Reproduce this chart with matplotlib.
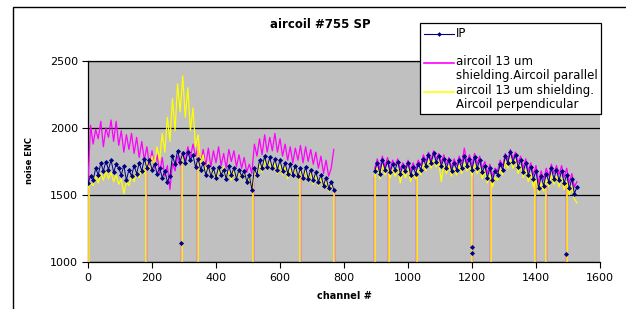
import numpy as np
import matplotlib
matplotlib.use('Agg')
import matplotlib.pyplot as plt
from matplotlib.lines import Line2D
from matplotlib.patches import Rectangle
from matplotlib.legend_handler import HandlerLine2D

plt.rcParams['font.family'] = ['DejaVu Sans']

# channel grid (every 8th channel), two readout blocks with a gap between
ch_a = np.arange(0, 769, 8)
ch_b = np.arange(896, 1529, 8)

# IP
ip_a = [1590, 1640, 1610, 1700, 1650, 1740, 1680, 1750,
        1690, 1760, 1670, 1730, 1700, 1650, 1720, 1610,
        1690, 1640, 1720, 1660, 1740, 1680, 1770, 1700,
        1760, 1690, 1730, 1660, 1700, 1630, 1680, 1600,
        1640, 1790, 1730, 1830, 1750, 1810, 1740, 1820,
        1760, 1800, 1710, 1770, 1690, 1740, 1650, 1720,
        1640, 1700, 1630, 1710, 1650, 1690, 1620, 1720,
        1650, 1700, 1620, 1690, 1640, 1680, 1600, 1650,
        1540, 1700, 1650, 1760, 1700, 1790, 1710, 1780,
        1700, 1770, 1690, 1760, 1680, 1740, 1660, 1730,
        1650, 1720, 1640, 1700, 1630, 1710, 1620, 1690,
        1610, 1670, 1600, 1650, 1570, 1630, 1550, 1600,
        1540]
ip_b = [1680, 1740, 1660, 1760, 1690, 1750, 1670, 1730,
        1690, 1750, 1660, 1720, 1680, 1740, 1650, 1710,
        1660, 1730, 1690, 1770, 1720, 1800, 1740, 1810,
        1750, 1790, 1720, 1770, 1700, 1760, 1680, 1740,
        1690, 1760, 1700, 1790, 1720, 1770, 1690, 1780,
        1700, 1760, 1670, 1720, 1630, 1700, 1610, 1680,
        1650, 1730, 1690, 1790, 1740, 1820, 1750, 1800,
        1710, 1760, 1670, 1740, 1650, 1710, 1620, 1680,
        1550, 1640, 1570, 1660, 1600, 1700, 1620, 1690,
        1610, 1680, 1590, 1650, 1550, 1620, 1510, 1560]
ip_low_ch = [291, 1199, 1201, 1495]
ip_low_val = [1145, 1110, 1070, 1060]

# aircoil parallel
par_a = [1600, 2020, 1880, 1990, 1920, 2050, 1860, 2000,
         1930, 2060, 1900, 2050, 1870, 1980, 1820, 1950,
         1840, 1960, 1810, 1930, 1780, 1900, 1760, 1860,
         1720, 1830, 1700, 1800, 1660, 1780, 1640, 1720,
         1540, 1740, 1680, 1790, 1720, 1820, 1750, 1860,
         1780, 1880, 1790, 1860, 1740, 1840, 1720, 1850,
         1710, 1830, 1740, 1860, 1720, 1810, 1700, 1840,
         1750, 1830, 1710, 1800, 1700, 1780, 1670, 1730,
         1660, 1880, 1790, 1920, 1800, 1950, 1820, 1930,
         1830, 1960, 1820, 1920, 1790, 1880, 1760, 1860,
         1740, 1850, 1760, 1870, 1740, 1860, 1750, 1840,
         1730, 1820, 1700, 1790, 1660, 1760, 1640, 1700,
         1840]
par_b = [1700, 1770, 1690, 1790, 1710, 1780, 1690, 1760,
         1720, 1770, 1690, 1740, 1700, 1760, 1680, 1740,
         1690, 1760, 1720, 1800, 1750, 1820, 1760, 1830,
         1770, 1810, 1740, 1800, 1730, 1780, 1700, 1770,
         1720, 1790, 1730, 1850, 1740, 1800, 1720, 1810,
         1730, 1790, 1700, 1750, 1660, 1730, 1640, 1700,
         1680, 1760, 1710, 1810, 1760, 1840, 1770, 1820,
         1740, 1790, 1700, 1770, 1680, 1740, 1650, 1720,
         1590, 1680, 1610, 1700, 1640, 1730, 1660, 1720,
         1650, 1720, 1630, 1700, 1590, 1660, 1560, 1600]

# aircoil perpendicular
perp_a = [1560, 1590, 1570, 1640, 1590, 1660, 1610, 1680,
          1620, 1670, 1600, 1650, 1580, 1620, 1510, 1600,
          1570, 1650, 1600, 1680, 1630, 1700, 1660, 1740,
          1690, 1790, 1720, 1860, 1760, 1960, 1820, 2080,
          1900, 2220, 1980, 2330, 2120, 2390, 2080, 2300,
          1980, 2150, 1860, 1950, 1740, 1800, 1670, 1740,
          1630, 1700, 1610, 1690, 1640, 1710, 1620, 1680,
          1610, 1690, 1600, 1680, 1620, 1670, 1590, 1640,
          1550, 1680, 1630, 1730, 1670, 1760, 1690, 1750,
          1680, 1740, 1660, 1730, 1650, 1710, 1620, 1700,
          1630, 1710, 1620, 1690, 1610, 1680, 1600, 1670,
          1580, 1650, 1570, 1630, 1550, 1610, 1530, 1570,
          1540]
perp_b = [1640, 1700, 1620, 1720, 1650, 1700, 1630, 1690,
          1640, 1700, 1590, 1680, 1630, 1700, 1600, 1660,
          1620, 1690, 1650, 1730, 1680, 1760, 1700, 1760,
          1710, 1750, 1600, 1730, 1660, 1720, 1640, 1700,
          1650, 1720, 1660, 1740, 1680, 1720, 1640, 1730,
          1660, 1710, 1620, 1680, 1590, 1650, 1560, 1630,
          1610, 1690, 1650, 1750, 1700, 1770, 1700, 1760,
          1660, 1720, 1630, 1690, 1600, 1660, 1560, 1620,
          1510, 1590, 1530, 1620, 1560, 1650, 1580, 1640,
          1560, 1630, 1540, 1600, 1500, 1570, 1470, 1440]

# dead channels (noise 0) and the level the drop starts from
dead_ch = [0, 180, 291, 342, 515, 661, 768, 895, 939, 1026, 1199, 1257, 1396, 1430, 1495]
dead_top = [1600, 1720, 1800, 1880, 1600, 1650, 1550, 1650, 1680, 1650, 1700, 1620, 1620, 1580, 1600]

NAVY = '#000080'
MAG = '#FF00FF'
YEL = '#FFFF00'


def join(a, b):
    x = np.concatenate([ch_a, [np.nan], ch_b])
    y = np.concatenate([a, [np.nan], b])
    return x, y


fig = plt.figure(figsize=(6.26, 3.09), dpi=100)
ax = fig.add_axes([88 / 626, 1 - 262 / 309, 512 / 626, 201 / 309])
ax.set_facecolor('#C0C0C0')

x, y = join(par_a, par_b)
ax.plot(x, y, color=MAG, lw=0.9, zorder=3)
ax.vlines(dead_ch, 0, dead_top, color=MAG, lw=1.0, zorder=3)

x, y = join(perp_a, perp_b)
ax.plot(x, y, color=YEL, lw=0.9, zorder=4)
ax.vlines(np.array(dead_ch) + 2, 0, dead_top, color=YEL, lw=1.1, zorder=4)

x, y = join(ip_a, ip_b)
ax.plot(x, y, color=NAVY, lw=0.7, marker='D', ms=2.6, mew=0, zorder=5)
ax.plot(ip_low_ch, ip_low_val, ls='none', color=NAVY, marker='D', ms=2.6, mew=0, zorder=5)

ax.set_xlim(0, 1600)
ax.set_ylim(1000, 2500)
ax.set_xticks(np.arange(0, 1601, 200))
ax.set_yticks([1000, 1500, 2000, 2500])
ax.tick_params(labelsize=8, length=4, width=0.8, color='black')
ax.tick_params(axis='y', pad=3)
ax.tick_params(axis='x', pad=4)
ax.yaxis.grid(True, color='black', lw=0.9)
ax.set_axisbelow(True)
for s in ['left', 'bottom', 'top']:
    ax.spines[s].set_color('black')
    ax.spines[s].set_linewidth(0.9)
ax.spines['right'].set_visible(False)

fig.text(320 / 626, 1 - 24 / 309, 'aircoil #755 SP', ha='center', va='center',
         fontsize=8.5, fontweight='bold')
fig.text(344 / 626, 1 - 296 / 309, 'channel #', ha='center', va='center',
         fontsize=7, fontweight='bold')
fig.text(30 / 626, 1 - 160 / 309, 'noise ENC', ha='center', va='center',
         rotation=90, fontsize=6, fontweight='bold')

# outer chart frame
fig.patches.append(Rectangle((13 / 626, -0.1), 1.0, 1.1 - 7 / 309, transform=fig.transFigure,
                             fill=False, edgecolor='black', lw=1.0))


class HandlerTop(HandlerLine2D):
    def create_artists(self, legend, orig_handle, xdescent, ydescent, width, height, fontsize, trans):
        return super().create_artists(legend, orig_handle, xdescent, ydescent - 1.05 * fontsize,
                                      width, height, fontsize, trans)


h_ip = Line2D([], [], color=NAVY, lw=0.8, marker='D', ms=2.4, mew=0)
h_par = Line2D([], [], color=MAG, lw=1.2)
h_perp = Line2D([], [], color=YEL, lw=1.2)
leg = ax.legend([h_ip, h_par, h_perp],
                ['IP\n', 'aircoil 13 um\nshielding.Aircoil parallel',
                 'aircoil 13 um shielding.\nAircoil perpendicular'],
                handler_map={Line2D: HandlerTop()},
                loc='upper left', bbox_to_anchor=(420 / 626, 1 - 23 / 309),
                bbox_transform=fig.transFigure, borderaxespad=0, fontsize=8.5,
                frameon=True, fancybox=False, framealpha=1, edgecolor='black',
                handlelength=2.6, handletextpad=0.15, labelspacing=0.2,
                borderpad=0.3)
for t in leg.get_texts():
    t.set_linespacing(1.05)
leg.get_frame().set_linewidth(0.9)
leg.set_zorder(10)

fig.savefig('out.png', dpi=100)
